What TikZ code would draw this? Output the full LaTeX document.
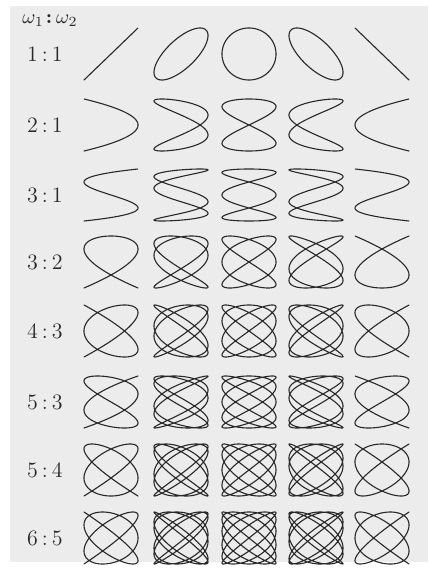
\documentclass[tikz,border=0pt]{standalone}
\usepackage{amsmath,amssymb}
\usepackage{xcolor}
\usepackage{tikz}
\usetikzlibrary{positioning}
\definecolor{paper}{RGB}{236,236,236}
\definecolor{ink}{RGB}{40,40,40}

\begin{document}
\begin{tikzpicture}[
    x=0.5pt, y=-0.5pt,
    curve/.style={draw=ink, line width=0.55pt, line join=round},
    ratiolabel/.style={font=\fontsize{11}{13}\selectfont, text=ink, inner sep=0pt},
    headlabel/.style={font=\normalsize, text=ink, inner sep=0pt}
]
\useasboundingbox (0,0) rectangle (428,572);
\fill[paper] (10,6) rectangle (428,562);
\node[headlabel] (head) at (50,21) {$\omega_1$\hspace{1pt}\textbf{:}\hspace{2pt}$\omega_2$};
\foreach \wa/\wb/\yc [count=\r] in {1/1/54,2/1/125,3/1/195,3/2/262,4/3/331,5/3/402,5/4/470,6/5/538} {
  \node[ratiolabel] (ratio\r) at (45,\yc) {\wa\hspace{2pt}:\hspace{2pt}\wb};
  \foreach \xc [count=\k from 0] in {111,181,249,316,382} {
    \pgfmathsetmacro{\ph}{((\wa+\wb)*180+45*\k)/\wb}
    \draw[curve, shift={(\xc,\yc)}] plot[domain=0:360, samples=541, variable=\t]
      ({27*cos(\wa*\t+\ph)}, {-26*cos(\wb*\t)});
  }
}
\end{tikzpicture}
\end{document}
